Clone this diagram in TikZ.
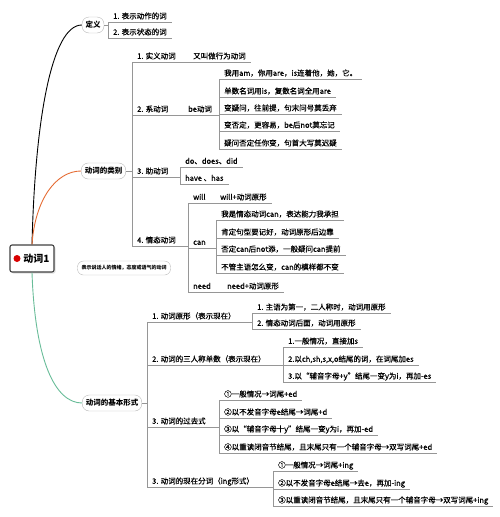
\documentclass[tikz,border=0pt]{standalone}
\usepackage{fontspec}
\setmainfont{Noto Sans CJK SC}
\newfontfamily\itemfont{Noto Sans CJK SC}[FakeBold=0.6]
\usetikzlibrary{shadows}
\definecolor{MapOrange}{RGB}{229,108,52}
\definecolor{MapGreen}{RGB}{104,188,152}
\definecolor{LineGray}{RGB}{150,150,150}
\definecolor{BubbleGray}{RGB}{185,185,185}
\tikzset{
  topic/.style={anchor=south west,inner xsep=5pt,inner ysep=1.5pt,text height=6pt,text depth=1.5pt,font=\fontsize{7.5}{9}\itemfont},
  bubble/.style={draw=BubbleGray,fill=white,rounded corners=7pt,inner xsep=3.5pt,inner ysep=3pt,minimum height=16pt,font=\fontsize{7.5}{9}\selectfont\bfseries},
  uline/.style={draw=LineGray,line width=0.6pt},
  link/.style={draw=LineGray,line width=0.6pt},
  branch/.style={line width=0.9pt}
}

\begin{document}
\begin{tikzpicture}[x=1pt,y=-1pt]
\useasboundingbox (0,0) rectangle (500,517);
% root
\node[draw=black!75,line width=1.1pt,rounded corners=2pt,fill=white,minimum width=44pt,minimum height=27pt,
  drop shadow={opacity=0.25,shadow xshift=1.5pt,shadow yshift=-1.5pt},font=\fontsize{10}{12}\selectfont\bfseries]
  (root) at (32,258.5) {\hspace*{9pt}动词1};
\node[circle,fill=red!85!black,inner sep=0pt,minimum size=7pt] (prio) at (17,258.5) {};
% main topics
\node[bubble] (dingyi) at (93,25) {定义};
\node[bubble] (leibie) at (103.5,171) {动词的类别};
\node[bubble] (jiben) at (112,403) {动词的基本形式};
\node[draw=BubbleGray,rounded corners=6pt,minimum height=14pt,inner xsep=4pt,font=\fontsize{5}{6}\selectfont\bfseries]
  (note) at (124,268) {表示说话人的情绪，态度或语气的动词};
\draw[branch,black] (root.north) .. controls +(3,-125) and +(-30,0) .. (dingyi.west);
\draw[branch,MapOrange] (root.north) .. controls +(3,-45) and +(-25,0) .. (leibie.west);
\draw[branch,MapGreen] (root.south) .. controls +(3,88) and +(-27,0) .. (jiben.west);

% 定义
\node[topic] (dy1) at (108,22) {1. 表示动作的词};
\node[topic] (dy2) at (108,38) {2. 表示状态的词};

% 动词的类别
\node[topic] (lb1) at (132,62) {1. 实义动词};
\node[topic] (sy) at (188,62) {又叫做行为动词};
\node[topic] (lb2) at (132,115) {2. 系动词};
\node[topic] (be) at (183,115) {be动词};
\node[topic] (be1) at (219,79) {我用am，你用are，is连着他，她，它。};
\node[topic] (be2) at (219,97) {单数名词用is，复数名词全用are};
\node[topic] (be3) at (219,114) {变疑问，往前提，句末问号莫丢弃};
\node[topic] (be4) at (219,131) {变否定，更容易，be后not莫忘记};
\node[topic] (be5) at (219,149) {疑问否定任你变，句首大写莫迟疑};
\node[topic] (lb3) at (132,177) {3. 助动词};
\node[topic] (zd1) at (180,167) {do、does、did};
\node[topic] (zd2) at (180,184) {have 、has};
\node[topic] (lb4) at (132,246) {4. 情态动词};
\node[topic] (will) at (188,203) {will};
\node[topic] (willa) at (215,203) {will+动词原形};
\node[topic] (can) at (188,248) {can};
\node[topic] (can1) at (216,220) {我是情态动词can，表达能力我承担};
\node[topic] (can2) at (216,238) {肯定句型要记好，动词原形后边靠};
\node[topic] (can3) at (216,255) {否定can后not添，一般疑问can提前};
\node[topic] (can4) at (216,273) {不管主语怎么变，can的模样都不变};
\node[topic] (need) at (188,292) {need};
\node[topic] (needa) at (222,292) {need+动词原形};

% 动词的基本形式
\node[topic] (jb1) at (147,322) {1. 动词原形（表示现在）};
\node[topic] (yx1) at (252,313) {1. 主语为第一，二人称时，动词用原形};
\node[topic] (yx2) at (252,329) {2. 情态动词后面，动词用原形};
\node[topic] (jb2) at (147,365) {2. 动词的三人称单数（表示现在）};
\node[topic] (ss1) at (283,347) {1.一般情况，直接加s};
\node[topic] (ss2) at (283,365) {2.以ch,sh,s,x,o结尾的词，在词尾加es};
\node[topic] (ss3) at (283,382) {3.以“辅音字母+y”结尾一变y为i，再加-es};
\node[topic] (jb3) at (147,427) {3. 动词的过去式};
\node[topic] (gq1) at (219,400) {①一般情况→词尾+ed};
\node[topic] (gq2) at (219,418) {②以不发音字母e结尾→词尾+d};
\node[topic] (gq3) at (219,435) {③以“辅音字母十y”结尾一变y为i，再加-ed};
\node[topic] (gq4) at (219,453) {④以重读闭音节结尾，且末尾只有一个辅音字母→双写词尾+ed};
\node[topic] (jb4) at (147,487) {3. 动词的现在分词（ing形式）};
\node[topic] (xf1) at (273,471) {①一般情况→词尾+ing};
\node[topic] (xf2) at (273,489) {②以不发音字母e结尾→去e，再加-ing};
\node[topic] (xf3) at (273,506) {③以重读闭音节结尾，且末尾只有一个辅音字母→双写词尾+ing};

% underlines
\foreach \n in {dy1,dy2,lb1,sy,lb2,be,be1,be2,be3,be4,be5,lb3,zd1,zd2,lb4,will,willa,can,can1,can2,can3,can4,need,needa,
  jb1,yx1,yx2,jb2,ss1,ss2,ss3,jb3,gq1,gq2,gq3,gq4,jb4,xf1,xf2,xf3}
  \draw[uline] (\n.south west) -- (\n.south east);
% connectors
\foreach \p/\c in {dingyi/dy1,dingyi/dy2,leibie/lb1,leibie/lb2,leibie/lb3,leibie/lb4,jiben/jb1,jiben/jb2,jiben/jb3,jiben/jb4}
  \draw[link] (\p.east) -| (\c.south west);
\foreach \p/\c in {lb1/sy,lb2/be,be/be1,be/be2,be/be3,be/be4,be/be5,lb3/zd1,lb3/zd2,lb4/will,lb4/can,lb4/need,
  will/willa,can/can1,can/can2,can/can3,can/can4,need/needa,jb1/yx1,jb1/yx2,jb2/ss1,jb2/ss2,jb2/ss3,
  jb3/gq1,jb3/gq2,jb3/gq3,jb3/gq4,jb4/xf1,jb4/xf2,jb4/xf3}
  \draw[link] (\p.south east) -| (\c.south west);
\end{tikzpicture}
\end{document}
